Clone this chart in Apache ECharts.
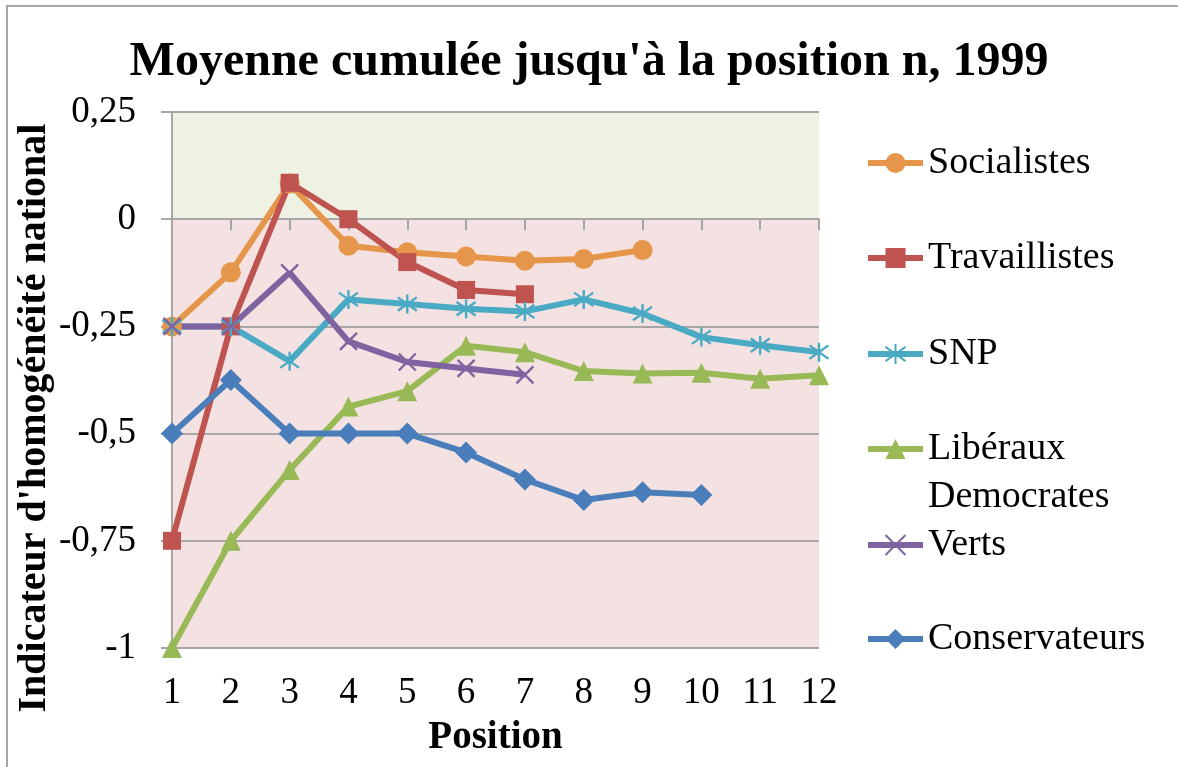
<!DOCTYPE html>
<html>
<head>
<meta charset="utf-8">
<title>Moyenne cumulée jusqu'à la position n, 1999</title>
<script src="https://cdn.jsdelivr.net/npm/echarts@6/dist/echarts.min.js"></script>
<style>
  html, body { margin: 0; padding: 0; background: #fff; }
  #chart { width: 1178px; height: 767px; }
</style>
</head>
<body>
<div id="chart"></div>
<script>
// données
const positions = ['1', '2', '3', '4', '5', '6', '7', '8', '9', '10', '11', '12']
const socialistes = [-0.25, -0.124, 0.083, -0.062, -0.077, -0.087, -0.097, -0.093, -0.072]
const travaillistes = [-0.75, -0.25, 0.085, 0, -0.1, -0.165, -0.175]
const snp = [-0.25, -0.25, -0.331, -0.187, -0.198, -0.209, -0.215, -0.187, -0.22, -0.275, -0.294, -0.31]
const liberaux = [-1, -0.75, -0.585, -0.437, -0.401, -0.295, -0.31, -0.354, -0.36, -0.358, -0.372, -0.364]
const verts = [-0.25, -0.25, -0.125, -0.285, -0.333, -0.348, -0.363]
const conservateurs = [-0.5, -0.375, -0.5, -0.5, -0.5, -0.544, -0.607, -0.655, -0.637, -0.643]
const yTicks = { min: -1, max: 0.25, step: 0.25 }

const FONT = 'Liberation Serif'
const GRID_COLOR = '#A6A6A6'

const STAR = 'path://M10,0L10,20M2.9,2.9L17.1,17.1M2.9,17.1L17.1,2.9'
const CROSS = 'path://M0,0L20,20M0,20L20,0'

const seriesDefs = [
  { name: 'Socialistes', data: socialistes, color: '#E5964A', symbol: 'circle', size: 20 },
  { name: 'Travaillistes', data: travaillistes, color: '#BE5350', symbol: 'rect', size: 18 },
  { name: 'SNP', data: snp, color: '#4AAAC4', symbol: STAR, size: 19, stroke: true },
  { name: 'Libéraux Democrates', data: liberaux, color: '#99B957', symbol: 'triangle', size: 20 },
  { name: 'Verts', data: verts, color: '#7F63A1', symbol: CROSS, size: 17, stroke: true },
  { name: 'Conservateurs', data: conservateurs, color: '#4A7EBB', symbol: 'diamond', size: 22 },
]

// centre vertical de chaque entrée de légende
const legendCenters = [163, 258, 354, 449, 545, 639]
const LINE_H = 48

const chart = echarts.init(document.getElementById('chart'))

const series = seriesDefs.map((s) => ({
  name: s.name,
  type: 'line',
  data: s.data,
  symbol: s.symbol,
  symbolSize: s.size,
  showAllSymbol: true,
  color: s.color,
  lineStyle: { width: 6, color: s.color },
  itemStyle: s.stroke
    ? { color: s.color, borderColor: s.color, borderWidth: 2.4 }
    : { color: s.color },
  emphasis: { disabled: true },
}))

const legend = seriesDefs.map((s, i) => {
  const twoLines = s.name === 'Libéraux Democrates'
  return {
    data: [s.name],
    orient: 'vertical',
    left: 865,
    top: twoLines ? legendCenters[i] - LINE_H * 1.5 : legendCenters[i] - LINE_H / 2,
    padding: 0,
    itemWidth: 55,
    itemHeight: 25,
    selectedMode: false,
    lineStyle: { width: 6 },
    formatter: () => (twoLines ? '\nLibéraux\nDemocrates' : s.name),
    textStyle: {
      fontFamily: FONT,
      fontSize: 38,
      lineHeight: LINE_H,
      color: '#000',
    },
  }
})

const option = {
  animation: false,
  backgroundColor: '#fff',
  title: {
    text: "Moyenne cumulée jusqu'à la position n, 1999",
    left: 'center',
    top: 39,
    padding: 0,
    textStyle: {
      fontFamily: FONT,
      fontSize: 48,
      fontWeight: 'bold',
      color: '#000',
    },
  },
  graphic: [
    {
      type: 'rect',
      silent: true,
      shape: { x: 7, y: 6, width: 2000, height: 2000 },
      style: { fill: 'none', stroke: GRID_COLOR, lineWidth: 2 },
    },
  ],
  legend,
  grid: {
    left: 172,
    right: 359,
    top: 112,
    bottom: 119,
    outerBoundsMode: 'none',
  },
  xAxis: {
    type: 'category',
    data: positions,
    boundaryGap: false,
    name: 'Position',
    nameLocation: 'middle',
    nameGap: 70,
    nameMoveOverlap: false,
    nameTextStyle: {
      fontFamily: FONT,
      fontSize: 39,
      fontWeight: 'bold',
      color: '#000',
    },
    axisLine: { lineStyle: { color: GRID_COLOR, width: 2 } },
    axisTick: { length: 11, lineStyle: { color: GRID_COLOR, width: 2 } },
    axisLabel: {
      margin: 27,
      fontFamily: FONT,
      fontSize: 37,
      color: '#000',
    },
    splitLine: { show: false },
  },
  yAxis: {
    type: 'value',
    min: yTicks.min,
    max: yTicks.max,
    interval: yTicks.step,
    name: "Indicateur d'homogénéité national",
    nameLocation: 'middle',
    nameRotate: 90,
    nameGap: 117,
    nameMoveOverlap: false,
    nameTextStyle: {
      fontFamily: FONT,
      fontSize: 40,
      fontWeight: 'bold',
      color: '#000',
      padding: [0, 76, 0, 0],
    },
    axisLine: { show: true, lineStyle: { color: GRID_COLOR, width: 2 } },
    axisTick: { show: true, length: 11, lineStyle: { color: GRID_COLOR, width: 2 } },
    axisLabel: {
      margin: 36,
      fontFamily: FONT,
      fontSize: 37,
      color: '#000',
      formatter: (v) => String(v).replace('.', ','),
    },
    splitLine: { lineStyle: { color: GRID_COLOR, width: 2 } },
    splitArea: {
      show: true,
      areaStyle: {
        color: ['#F3E2E1', '#F3E2E1', '#F3E2E1', '#F3E2E1', '#EEF2E3'],
      },
    },
  },
  series,
}

chart.setOption(option)
</script>
</body>
</html>
